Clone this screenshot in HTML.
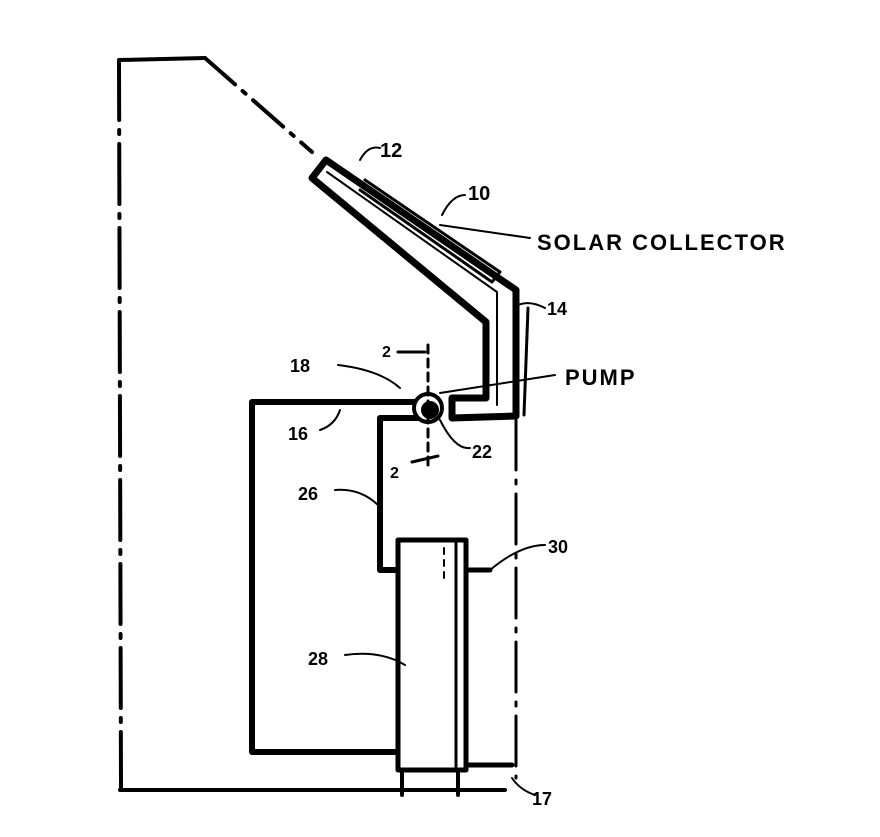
<!DOCTYPE html>
<html><head><style>
html,body{margin:0;padding:0;background:#fff;}
svg{display:block;}
text{font-family:"Liberation Sans",sans-serif;font-weight:bold;fill:#000;}
</style></head><body>
<svg width="880" height="837" viewBox="0 0 880 837" xmlns="http://www.w3.org/2000/svg">
<g fill="none" stroke="#000" stroke-linecap="round" stroke-linejoin="round">
<!-- house outline -->
<polyline points="120,60 205,58" stroke-width="4"/>
<line x1="119" y1="60" x2="121" y2="790" stroke-width="4" stroke-dasharray="60,10,4,10"/>
<line x1="205" y1="58" x2="312" y2="152" stroke-width="4" stroke-dasharray="40,10,4,10"/>
<line x1="120" y1="790" x2="505" y2="790" stroke-width="4"/>
<line x1="516" y1="420" x2="516" y2="778" stroke-width="3" stroke-dasharray="50,10,4,10"/>
<!-- collector tube -->
<path d="M312,178 L326,160 L516,290 L516,416 L452,418 L452,398 L486,398 L486,322 Z" stroke-width="7" fill="#fff"/>
<path d="M327,172 L497,292 L497,405" stroke-width="2"/>
<path d="M365,180 L500,272 L492,282 L360,190" stroke-width="3"/>
<path d="M528,308 L524,415" stroke-width="3"/>
<!-- pipe 16 -->
<polyline points="418,402 252,402 252,752 396,752" stroke-width="6"/>
<!-- pipe 26 -->
<polyline points="420,418 380,418 380,570 398,570" stroke-width="6"/>
<!-- pump -->
<circle cx="428" cy="408" r="14" stroke-width="4" fill="#fff"/>
<circle cx="430" cy="410" r="9" fill="#000" stroke="none"/>
<!-- section lines -->
<line x1="428" y1="345" x2="428" y2="470" stroke-width="3" stroke-dasharray="8,6"/>
<line x1="398" y1="352" x2="425" y2="352" stroke-width="3"/>
<line x1="412" y1="462" x2="438" y2="456" stroke-width="3"/>
<!-- tank -->
<rect x="398" y="540" width="68" height="230" stroke-width="5" fill="#fff"/>
<line x1="456" y1="540" x2="456" y2="770" stroke-width="3"/>
<line x1="444" y1="548" x2="444" y2="580" stroke-width="2" stroke-dasharray="6,6"/>
<line x1="402" y1="770" x2="402" y2="795" stroke-width="4"/>
<line x1="458" y1="770" x2="458" y2="795" stroke-width="4"/>
<line x1="466" y1="570" x2="490" y2="570" stroke-width="5"/>
<line x1="466" y1="765" x2="512" y2="765" stroke-width="5"/>
<!-- leaders -->
<path d="M360,160 Q368,145 380,148" stroke-width="2"/>
<path d="M442,215 Q452,195 465,195" stroke-width="2"/>
<line x1="440" y1="225" x2="530" y2="238" stroke-width="2"/>
<path d="M518,305 Q530,300 545,308" stroke-width="2"/>
<path d="M338,365 Q380,370 400,388" stroke-width="2"/>
<line x1="440" y1="393" x2="555" y2="375" stroke-width="2"/>
<path d="M320,430 Q335,425 340,410" stroke-width="2"/>
<path d="M440,420 Q455,450 470,448" stroke-width="2"/>
<path d="M335,490 Q360,488 378,505" stroke-width="2"/>
<path d="M490,570 Q520,545 545,545" stroke-width="2"/>
<path d="M345,655 Q380,650 405,665" stroke-width="2"/>
<path d="M512,778 Q520,790 535,795" stroke-width="2"/>
</g>
<text x="380" y="157" font-size="20">12</text>
<text x="468" y="200" font-size="20">10</text>
<text x="537" y="250" font-size="22" letter-spacing="2">SOLAR COLLECTOR</text>
<text x="547" y="315" font-size="18">14</text>
<text x="290" y="372" font-size="18">18</text>
<text x="565" y="385" font-size="22" letter-spacing="2">PUMP</text>
<text x="288" y="440" font-size="18">16</text>
<text x="472" y="458" font-size="18">22</text>
<text x="298" y="500" font-size="18">26</text>
<text x="548" y="553" font-size="18">30</text>
<text x="308" y="665" font-size="18">28</text>
<text x="532" y="805" font-size="18">17</text>
<text x="382" y="357" font-size="16">2</text>
<text x="390" y="478" font-size="16">2</text>
</svg>
</body></html>
